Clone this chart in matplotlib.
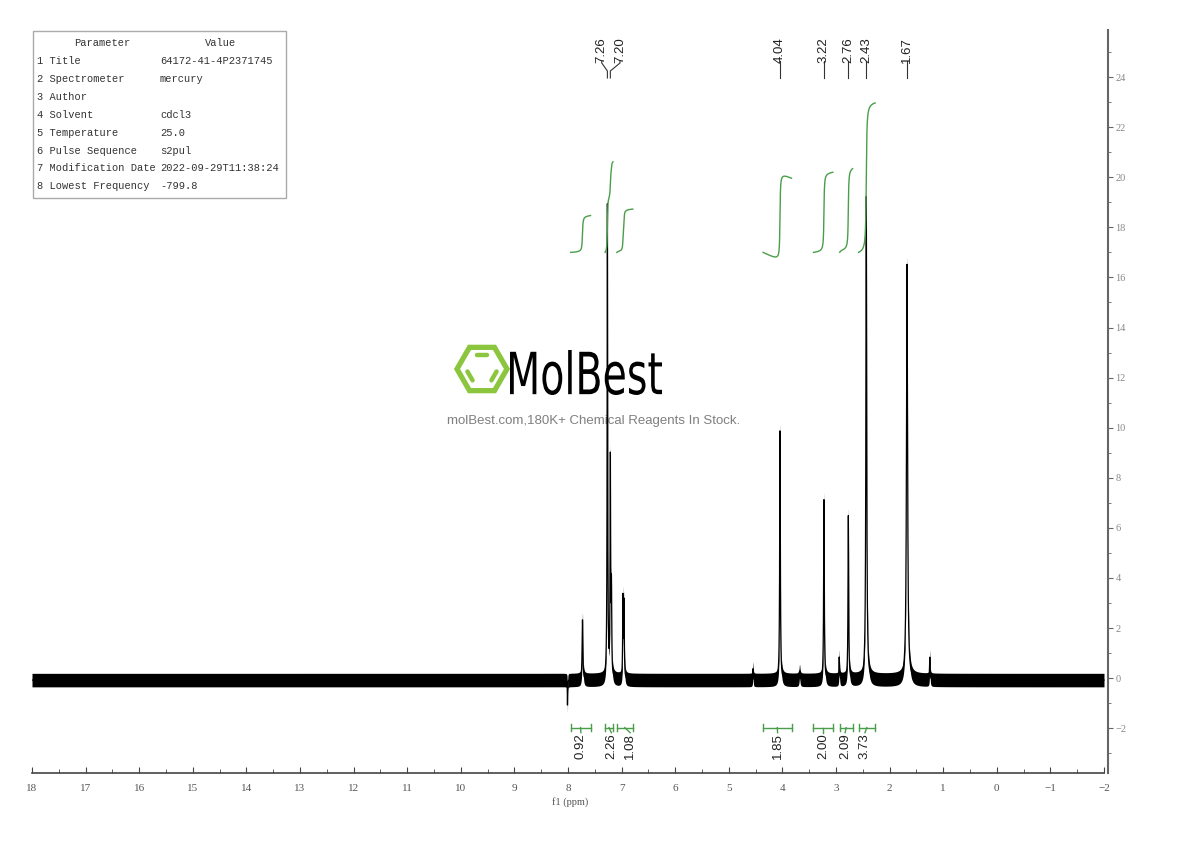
import numpy as np
import matplotlib.pyplot as plt
from matplotlib.patches import Rectangle, Polygon, PathPatch
from matplotlib.textpath import TextPath
from matplotlib.font_manager import FontProperties
from matplotlib.transforms import Affine2D
from matplotlib.ticker import MultipleLocator

# peak table
peak_ppm = [8.01, 7.73, 7.265, 7.21, 7.19, 6.975, 6.955, 4.55, 4.045, 3.68, 3.225, 2.94, 2.77, 2.435, 1.675, 1.25]
peak_height = [-1.0, 2.4, 18.9, 8.6, 3.4, 3.2, 3.0, 0.45, 9.95, 0.35, 7.2, 0.9, 6.55, 19.3, 16.6, 0.9]
peak_hw = [0.003, 0.008, 0.006, 0.006, 0.006, 0.006, 0.006, 0.006, 0.007, 0.010, 0.007, 0.006, 0.007, 0.009, 0.012, 0.006]
baseline = -0.08
noise = 0.27

# labelled shifts
shift_text = ['7.26', '7.20', '4.04', '3.22', '2.76', '2.43', '1.67']
shift_ppm = [7.265, 7.21, 4.045, 3.225, 2.77, 2.435, 1.675]
shift_text_ppm = [7.37, 7.03, 4.045, 3.225, 2.77, 2.435, 1.675]

# integrals
integral_value = [0.92, 2.26, 1.08, 1.85, 2.00, 2.09, 3.73]
integral_start = [7.95, 7.31, 7.09, 4.36, 3.42, 2.93, 2.58]
integral_end = [7.58, 7.16, 6.79, 3.83, 3.06, 2.69, 2.27]
integral_label_ppm = [7.76, 7.19, 6.84, 4.09, 3.24, 2.83, 2.46]
integral_drift = [0, 0, 0, -0.6, 0, 0, 0]

params = ['1 Title', '2 Spectrometer', '3 Author', '4 Solvent', '5 Temperature',
          '6 Pulse Sequence', '7 Modification Date', '8 Lowest Frequency']
values = ['64172-41-4P2371745', 'mercury', '', 'cdcl3', '25.0', 's2pul',
          '2022-09-29T11:38:24', '-799.8']

W, H = 1190, 841
green = '#4a9e4a'

def fx(px):
    return px / W

def fy(py):
    return 1 - py / H

def ay(py):
    return (773 - py) / 743

ppm = np.linspace(18, -2, 40001)
peaks = np.zeros_like(ppm)
for p, h, w in zip(peak_ppm, peak_height, peak_hw):
    peaks += h * w**2 / ((ppm - p)**2 + w**2)
spec = peaks + baseline

fig = plt.figure(figsize=(11.9, 8.41), dpi=100)
ax = fig.add_axes([fx(32), fy(773), (1108 - 32) / W, 743 / H])

# watermark (word squeezed into its box, in pixels)
tp = TextPath((0, 0), 'MolBest', size=50, prop=FontProperties(family='DejaVu Sans'))
bb = tp.get_extents()
sx, sy = 152 / bb.width, 45 / bb.height
wm = Affine2D().translate(-bb.x0, -bb.y0).scale(sx, sy).translate(510, H - 395)
ax.add_artist(PathPatch(tp, transform=wm, facecolor='black', lw=0, zorder=0.5))
ax.text(fx(594), fy(421), 'molBest.com,180K+ Chemical Reagents In Stock.',
        transform=fig.transFigure, fontsize=9.5, family=['Liberation Sans'],
        color='#7f7f7f', ha='center', va='center', zorder=0.5)

ax.fill_between(ppm, spec - noise, spec + noise, color='black', lw=0)
ax.plot(ppm, spec, color='black', lw=0.9)

# integral curves and brackets
for v, s, e, lx, d in zip(integral_value, integral_start, integral_end,
                          integral_label_ppm, integral_drift):
    m = (ppm <= s) & (ppm >= e)
    cum = np.cumsum(peaks[m])
    cum = cum / cum[-1]
    t = np.linspace(0, 1, m.sum())
    rise = v * 1.6
    ax.plot(ppm[m], 17.0 + d * t + (rise - d) * cum, color=green, lw=1.0)

    yb = -1.98
    ax.plot([s, e], [yb, yb], color=green, lw=1.0)
    ax.plot([s, s], [yb - 0.13, yb + 0.13], color=green, lw=1.0)
    ax.plot([e, e], [yb - 0.13, yb + 0.13], color=green, lw=1.0)
    ax.plot([(s + e) / 2, lx], [yb, yb - 0.2], color=green, lw=1.0)
    ax.text(lx, -2.2, f'{v:.2f}', rotation=90, ha='center', va='top',
            fontsize=9.5, family=['Liberation Sans'], color='#222222')

# peak labels
trans = ax.get_xaxis_transform()
for txt, p, tx in zip(shift_text, shift_ppm, shift_text_ppm):
    ax.text(tx, ay(37), txt, transform=trans, rotation=90, ha='center', va='top',
            fontsize=9.5, family=['Liberation Sans'], color='#222222')
    ax.plot([tx, tx, p, p], [ay(61), ay(63), ay(71), ay(78)], transform=trans,
            color='#333333', lw=0.8, clip_on=False)

ax.set_xlim(18, 18 - 1076 / 53.6)
ax.set_ylim(-3.79, 25.88)

for side in ['left', 'top']:
    ax.spines[side].set_visible(False)
ax.spines['bottom'].set_bounds(-2, 18)
ax.spines['bottom'].set_color('#444444')
ax.spines['bottom'].set_linewidth(1.2)
ax.spines['right'].set_color('#666666')
ax.spines['right'].set_linewidth(1.5)

ax.xaxis.set_major_locator(MultipleLocator(1))
ax.xaxis.set_minor_locator(MultipleLocator(0.5))
ax.yaxis.set_major_locator(MultipleLocator(2))
ax.yaxis.set_minor_locator(MultipleLocator(1))
ax.yaxis.tick_right()
ax.tick_params(axis='x', which='both', direction='in', colors='#444444', pad=8,
               labelsize=8, labelcolor='#555555')
ax.tick_params(axis='x', which='major', length=4)
ax.tick_params(axis='x', which='minor', length=3)
ax.tick_params(axis='y', which='both', direction='out', colors='#666666', pad=2,
               labelsize=7.5, labelcolor='#888888')
ax.tick_params(axis='y', which='major', length=3.5)
ax.tick_params(axis='y', which='minor', length=2.5)
for lab in ax.get_xticklabels() + ax.get_yticklabels():
    lab.set_family(['Liberation Serif'])
ax.set_xlabel('f1 (ppm)', fontsize=7.5, family=['Liberation Serif'],
              color='#555555', labelpad=3)

# parameter table
fig.patches.append(Rectangle((fx(33), fy(198)), 253 / W, 167 / H, transform=fig.transFigure,
                             fill=False, edgecolor='#aaaaaa', lw=1))
tf = dict(fontsize=7.5, family=['Liberation Mono'], color='#333333', va='center')
fig.text(fx(102), fy(43), 'Parameter', ha='center', **tf)
fig.text(fx(221), fy(43), 'Value', ha='center', **tf)
for i, (pn, pv) in enumerate(zip(params, values)):
    yy = 61 + i * 17.9
    fig.text(fx(37), fy(yy), pn, ha='left', **tf)
    fig.text(fx(160), fy(yy), pv, ha='left', **tf)

# logo
lax = fig.add_axes([fx(448), fy(400), 68 / W, 62 / H])
lax.set_xlim(448, 516)
lax.set_ylim(400, 338)
lax.axis('off')
ang = np.radians(np.arange(6) * 60)
cx, cy = 482, 369
hexv = np.column_stack([cx + 25 * np.cos(ang), cy - 25 * np.sin(ang)])
lax.add_patch(Polygon(hexv, closed=True, fill=False, edgecolor='#8cc63e', lw=3.8))
for a1, a2 in [(60, 120), (180, 240), (300, 360)]:
    p1 = np.array([cx + 16 * np.cos(np.radians(a1)), cy - 16 * np.sin(np.radians(a1))])
    p2 = np.array([cx + 16 * np.cos(np.radians(a2)), cy - 16 * np.sin(np.radians(a2))])
    q1 = p1 + 0.18 * (p2 - p1)
    q2 = p1 + 0.82 * (p2 - p1)
    lax.plot([q1[0], q2[0]], [q1[1], q2[1]], color='#8cc63e', lw=3.2,
             solid_capstyle='round')

plt.savefig('out.png', dpi=100)
